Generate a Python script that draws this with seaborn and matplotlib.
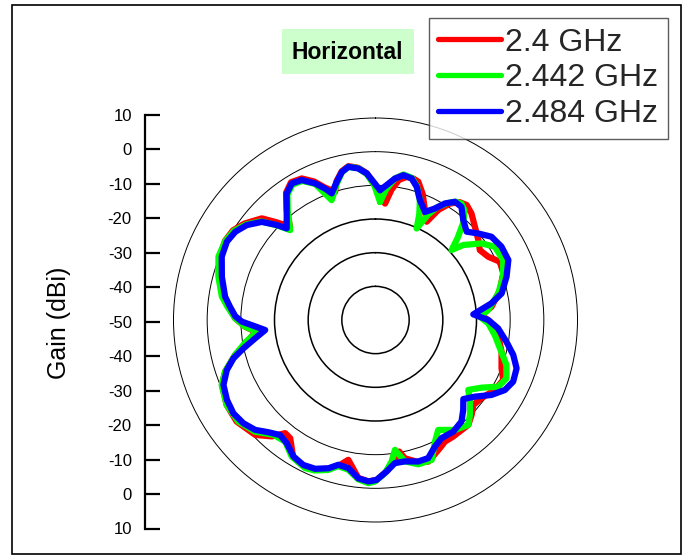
import numpy as np
import pandas as pd
import matplotlib
matplotlib.use("Agg")
import matplotlib.pyplot as plt
from matplotlib.patches import Rectangle
import seaborn as sns

# ---------------- data ----------------
series_names = ["2.4 GHz", "2.442 GHz", "2.484 GHz"]
series_colors = ["#ff0000", "#00ff00", "#0000ff"]

angles_24 = [2.5, 4.7, 7.0, 9.5, 12.3, 15.0, 17.2, 20.5, 24.0, 27.5,
             29.7, 32.5, 35.5, 38.4, 42.0, 46.8, 52.1, 56.2, 60.7, 64.9,
             69.9, 76.5, 83.5, 87.3, 90.8, 97.0, 104.1, 111.0, 115.1, 120.4,
             126.4, 131.0, 134.6, 138.5, 146.3, 150.3, 153.3, 159.5, 163.4, 168.0,
             169.8, 172.5, 175.8, 179.6, 182.5, 186.2, 191.0, 194.0, 197.6, 202.1,
             206.5, 211.0, 215.8, 218.6, 221.7, 226.3, 233.8, 240.3, 247.1, 251.1,
             256.0, 260.5, 264.4, 267.1, 270.7, 275.2, 278.8, 285.7, 292.4, 297.8,
             302.2, 306.4, 311.8, 314.5, 317.5, 321.1, 324.9, 328.5, 332.5, 336.1,
             339.0, 342.5, 344.3, 347.2, 350.0, 353.5, 356.6, 359.5]
gain_24 = [-13.5, -15.3, -11.0, -7.8, -6.5, -6.5, -7.0, -10.0, -14.0, -17.1,
           -12.4, -9.0, -7.0, -6.4, -7.4, -9.5, -11.3, -12.7, -11.6, -9.2,
           -9.6, -12.0, -15.3, -18.5, -16.0, -13.3, -11.4, -9.9, -8.1, -8.9,
           -10.9, -11.5, -9.9, -8.4, -8.4, -8.4, -7.4, -5.1, -6.0, -8.0,
           -10.3, -7.5, -4.9, -2.5, -2.0, -2.8, -7.7, -5.5, -3.6, -2.1,
           -1.7, -2.5, -6.7, -7.0, -3.7, -0.6, 1.1, 0.9, -0.5, -2.8,
           -7.0, -11.5, -14.2, -11.2, -8.3, -6.2, -4.2, -2.0, 0.0, 0.5,
           0.0, -1.7, -4.7, -8.5, -12.4, -8.0, -3.8, -2.0, -2.6, -5.0,
           -7.8, -10.1, -7.2, -4.7, -3.6, -4.5, -6.3, -9.8]

angles_2442 = [2.2, 4.7, 7.8, 10.9, 14.3, 17.2, 20.3, 22.5, 24.2, 26.5,
               28.5, 31.5, 34.0, 36.4, 39.0, 42.0, 45.0, 47.4, 49.5, 54.2,
               58.5, 64.9, 71.3, 77.8, 84.9, 88.2, 91.7, 97.2, 102.8, 108.9,
               114.0, 118.5, 122.5, 127.0, 130.8, 135.2, 138.5, 144.1, 150.3, 153.9,
               158.1, 163.5, 168.2, 171.5, 173.5, 176.5, 180.2, 182.5, 186.2, 190.3,
               194.4, 197.5, 202.0, 205.4, 211.5, 216.6, 221.6, 227.2, 233.5, 240.3,
               247.1, 251.1, 256.0, 260.5, 264.4, 267.1, 270.7, 275.2, 278.8, 285.4,
               292.0, 297.8, 302.2, 306.4, 310.8, 313.9, 316.5, 321.1, 324.9, 328.5,
               332.2, 336.1, 339.9, 344.3, 347.2, 350.0, 353.5, 356.6, 359.5]
gain_2442 = [-14.9, -11.0, -7.6, -6.0, -6.4, -8.4, -12.0, -16.0, -20.2, -15.0,
             -12.0, -9.3, -7.6, -7.0, -8.0, -11.0, -15.5, -19.3, -15.7, -11.1,
             -8.4, -8.1, -10.0, -12.7, -16.4, -19.0, -16.5, -14.3, -12.1, -8.9,
             -7.4, -8.5, -12.6, -15.5, -12.9, -10.2, -8.4, -9.7, -12.4, -9.8,
             -5.2, -5.3, -7.1, -11.0, -7.7, -4.4, -2.0, -1.5, -2.4, -4.8,
             -5.2, -3.3, -1.8, -1.3, -2.4, -5.0, -4.4, -1.2, 0.7, 0.9,
             -0.4, -2.8, -7.0, -11.0, -14.6, -11.2, -8.3, -5.8, -3.8, -1.6,
             0.3, 0.4, -0.3, -2.2, -5.2, -9.5, -13.2, -8.5, -4.5, -2.8,
             -3.3, -5.8, -12.1, -7.8, -5.0, -3.8, -4.6, -6.6, -10.0]

angles_2484 = [2.0, 4.7, 7.8, 10.9, 14.3, 17.2, 20.3, 24.6, 28.0, 30.8,
               33.9, 37.2, 41.3, 45.9, 49.9, 54.3, 59.8, 65.7, 71.7, 78.1,
               81.8, 86.7, 90.0, 93.9, 99.4, 104.2, 108.9, 114.1, 118.4, 122.9,
               127.6, 132.0, 135.7, 139.7, 145.1, 150.8, 154.8, 159.1, 163.2, 168.2,
               172.3, 175.8, 179.6, 182.5, 186.2, 190.4, 194.4, 197.6, 202.1, 206.5,
               211.0, 215.8, 219.7, 223.7, 227.6, 232.0, 236.7, 241.7, 246.9, 251.4,
               254.9, 257.9, 261.3, 264.8, 267.3, 269.3, 271.6, 275.2, 278.8, 285.7,
               292.4, 297.8, 302.2, 306.4, 310.8, 313.9, 315.9, 321.1, 324.9, 328.5,
               332.2, 336.1, 339.0, 340.9, 344.3, 347.2, 350.0, 353.5, 356.6, 359.1]
gain_2484 = [-11.4, -9.8, -7.6, -6.2, -6.6, -8.6, -12.0, -14.7, -12.5, -9.7,
             -7.7, -7.8, -10.5, -12.3, -10.1, -7.6, -6.7, -6.7, -9.0, -11.7,
             -15.2, -20.9, -16.5, -13.5, -10.6, -7.8, -5.7, -5.2, -6.3, -9.0,
             -12.7, -14.9, -12.7, -10.5, -9.6, -9.8, -8.5, -6.1, -6.1, -7.1,
             -7.1, -4.9, -2.5, -2.0, -2.7, -5.3, -5.6, -3.8, -2.3, -1.9,
             -2.7, -4.9, -5.6, -3.9, -1.6, -0.2, 0.5, 0.1, -0.9, -3.4,
             -6.3, -9.9, -13.8, -17.1, -13.7, -10.3, -8.3, -6.6, -4.8, -2.6,
             -0.6, -0.1, -0.8, -2.5, -5.4, -9.3, -12.1, -8.0, -4.1, -2.4,
             -3.0, -5.6, -8.2, -10.2, -7.4, -4.9, -3.8, -4.7, -6.4, -8.9]

ring_levels = [-40, -30, -20, -10, 0]
r_min, r_max = -50, 10

axis_tick_pos = [60, 50, 40, 30, 20, 10, 0, -10, -20, -30, -40, -50, -60]
axis_tick_labels = ["10", "0", "-10", "-20", "-30", "-40", "-50",
                    "-40", "-30", "-20", "-10", "0", "10"]

# ---------------- long-form table (closed loops) ----------------
frames = []
for name, ang, g in zip(series_names,
                        [angles_24, angles_2442, angles_2484],
                        [gain_24, gain_2442, gain_2484]):
    a = list(ang) + [ang[0] + 360]
    v = list(g) + [g[0]]
    frames.append(pd.DataFrame({"theta": np.deg2rad(a), "gain": v, "freq": name}))
df = pd.concat(frames, ignore_index=True)

# ---------------- figure ----------------
sns.set_theme(style="white")
plt.rcParams["font.family"] = ["Liberation Sans", "DejaVu Sans"]

W, H = 687, 556
fig = plt.figure(figsize=(W / 100, H / 100), dpi=100)
fig.patch.set_facecolor("white")

cx, cy, R = 375.5, 320, 202
ax = fig.add_axes([(cx - R) / W, (H - cy - R) / H, 2 * R / W, 2 * R / H],
                  projection="polar")
ax.set_theta_zero_location("N")
ax.set_theta_direction(-1)
ax.set_facecolor("none")

sns.lineplot(data=df, x="theta", y="gain", hue="freq",
             palette=dict(zip(series_names, series_colors)),
             hue_order=series_names, sort=False, estimator=None,
             lw=4.5, ax=ax, legend=True)
for ln in ax.get_lines():
    ln.set_solid_joinstyle("round")
    ln.set_solid_capstyle("round")

ax.set_rlim(r_min, r_max)
ax.set_rticks(ring_levels)
ax.set_yticklabels([])
ax.set_xticks([])
ax.xaxis.grid(False)
ax.yaxis.grid(True, color="black", linestyle="-")
for gl, lev in zip(ax.yaxis.get_gridlines(), ring_levels):
    gl.set_linewidth(1.1 if lev <= -20 else 0.7)
    gl.set_color("black")
ax.spines["polar"].set_linewidth(0.7)
ax.spines["polar"].set_color("black")
ax.set_xlabel("")
ax.set_ylabel("")

handles, labels = ax.get_legend_handles_labels()
ax.get_legend().remove()
leg = fig.legend(handles, labels, loc="upper right",
                 bbox_to_anchor=(668 / W, 1 - 18 / H), bbox_transform=fig.transFigure,
                 fontsize=23, frameon=True, fancybox=False, edgecolor="#333333",
                 handlelength=1.95, handletextpad=0.15, borderpad=0.3,
                 labelspacing=0.18, borderaxespad=0)
leg.get_frame().set_linewidth(1.0)
for ln in leg.get_lines():
    ln.set_linewidth(3.8)
    ln.set_solid_capstyle("round")

# ---------------- left gain scale ----------------
top_px, bot_px = 115, 528.5
sax = fig.add_axes([145 / W, (H - bot_px) / H, 0.02, (bot_px - top_px) / H])
sax.set_facecolor("none")
sax.set_ylim(-60, 60)
sax.set_xlim(0, 1)
sax.set_xticks([])
sax.set_yticks(axis_tick_pos)
sax.set_yticklabels(axis_tick_labels)
for s in ["top", "right", "bottom"]:
    sax.spines[s].set_visible(False)
sax.spines["left"].set_linewidth(1.6)
sax.spines["left"].set_color("black")
sax.tick_params(axis="y", direction="in", length=11, width=1.6, pad=9.5,
                labelsize=12, colors="black", left=True)

fig.text(59 / W, 1 - 323 / H, "Gain (dBi)", rotation=90, fontsize=18,
         ha="center", va="center", color="black")

# ---------------- "Horizontal" tag ----------------
fig.patches.append(Rectangle((282 / W, 1 - 74.5 / H), 132 / W, 45 / H,
                             transform=fig.transFigure, facecolor="#ccffcc",
                             edgecolor="none", zorder=1))
fig.text(347.5 / W, 1 - 52.5 / H, "Horizontal", fontsize=16.5, fontweight="bold",
         ha="center", va="center", color="black", zorder=2)

# ---------------- outer frame ----------------
fig.patches.append(Rectangle((12 / W, 1 - 554 / H), 669 / W, 549 / H,
                             transform=fig.transFigure, fill=False,
                             edgecolor="black", linewidth=1.2))

fig.savefig("out.png", dpi=100, facecolor="white")
